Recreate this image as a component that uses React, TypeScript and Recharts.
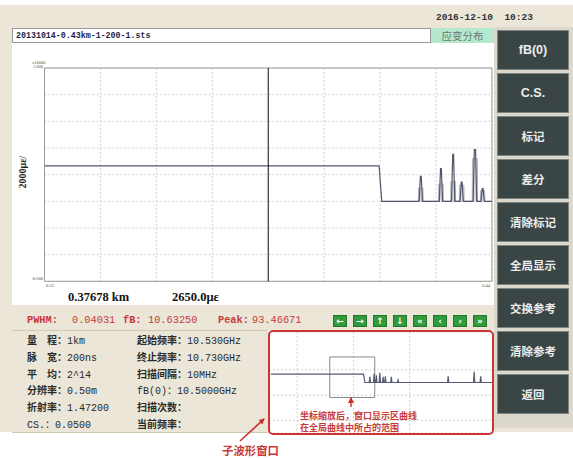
import React from 'react';
import {
  ComposedChart,
  Line,
  Area,
  XAxis,
  YAxis,
  CartesianGrid,
  ReferenceLine,
  ReferenceArea,
} from 'recharts';

// ---------- main strain view (0.22 – 0.44 km) ----------
const mainTicksX = [0.22, 0.2475, 0.275, 0.3025, 0.33, 0.3575, 0.385, 0.4125, 0.44];
const mainTicksY = [-0.6, -0.4, -0.2, 0, 0.2, 0.4, 0.6, 0.8, 1.0];
const mainDistance = [
  0.22, 0.3845, 0.3858,
  0.4042, 0.4048, 0.4052, 0.4058,
  0.4141, 0.4147, 0.4151, 0.4157,
  0.4201, 0.4207, 0.4211, 0.4217,
  0.4243, 0.4249, 0.4253, 0.4259,
  0.4307, 0.4313, 0.4319, 0.4325,
  0.4346, 0.4352, 0.4356, 0.4362,
  0.44,
];
const mainStrain = [
  0.266, 0.266, 0,
  0, 0.188, 0.188, 0,
  0, 0.245, 0.245, 0,
  0, 0.352, 0.352, 0,
  0, 0.145, 0.145, 0,
  0, 0.387, 0.387, 0,
  0, 0.096, 0.096, 0,
  0,
];
const refDistance = [
  0.4038, 0.4039, 0.4061, 0.4062,
  0.4137, 0.4138, 0.416, 0.4161,
  0.4197, 0.4198, 0.422, 0.4221,
  0.4239, 0.424, 0.4262, 0.4263,
  0.4303, 0.4304, 0.4328, 0.4329,
  0.4343, 0.4344, 0.4364, 0.4365,
];
const refStrain = [
  0, 0.1, 0.1, 0,
  0, 0.13, 0.13, 0,
  0, 0.15, 0.15, 0,
  0, 0.12, 0.12, 0,
  0, 0.32, 0.32, 0,
  0, 0.08, 0.08, 0,
];

// ---------- overview (sub-window) ----------
const subTicksX = [-0.077, 0.0605, 0.198, 0.3355, 0.473, 0.6105, 0.748, 0.8855, 1.023];
const subTicksY = [-1.6, -1.2, -0.8, -0.4, 0, 0.4, 0.8, 1.2, 1.6];
const subDistance = [
  -0.068, 0.385, 0.392,
  0.413, 0.416, 0.419,
  0.434, 0.437, 0.44,
  0.445, 0.448, 0.451,
  0.462, 0.465, 0.468,
  0.478, 0.481, 0.484,
  0.489, 0.492, 0.495,
  0.518, 0.521, 0.524,
  0.551, 0.554, 0.557,
  0.796, 0.799, 0.802,
  0.923, 0.926, 0.929,
  0.955, 0.958, 0.961,
  1.023,
];
const subStrain = [
  0.266, 0.266, 0,
  0, 0.178, 0,
  0, 0.286, 0,
  0, 0.232, 0,
  0, 0.305, 0,
  0, 0.178, 0,
  0, 0.2, 0,
  0, 0.178, 0,
  0, 0.073, 0,
  0, 0.2, 0,
  0, 0.337, 0,
  0, 0.2, 0,
  0,
];

// ---------- texts ----------
const fileName = '20131014-0.43km-1-200-1.sts';
const modeLabel = '应变分布';
const dateText = '2016-12-10  10:23';
const yTitle = '2000με/';
const cursorDistance = '0.37678 km';
const cursorStrain = '2650.0με';
const cursorKm = 0.33;
const statusLabels = ['PWHM:', 'fB:', 'Peak:'];
const statusValues = ['0.04031', '10.63250', '93.46671'];
const navGlyphs = ['←', '→', '↑', '↓', '«', '‹', '›', '»'];
const sideButtons = ['fB(0)', 'C.S.', '标记', '差分', '清除标记', '全局显示', '交换参考', '清除参考', '返回'];
const infoLeftLabels = ['量　程：', '脉　宽：', '平　均：', '分辨率：', '折射率：', 'CS.：'];
const infoLeftValues = ['1km', '200ns', '2^14', '0.50m', '1.47200', '0.0500'];
const infoRightLabels = ['起始频率：', '终止频率：', '扫描间隔：', 'fB(0)：', '扫描次数：', '当前频率：'];
const infoRightValues = ['10.530GHz', '10.730GHz', '10MHz', '10.5000GHz', '', ''];
const noteLines = ['坐标缩放后，窗口显示区曲线', '在全局曲线中所占的范围'];
const subWindowLabel = '子波形窗口';

const mainData = mainDistance.map((km, i) => ({ km, strain: mainStrain[i] }));
const refData = refDistance.map((km, i) => ({ km, ref: refStrain[i] }));
const subData = subDistance.map((km, i) => ({ km, strain: subStrain[i] }));

const CJK = "'Noto Sans CJK SC', sans-serif";
const MONO = "'Liberation Mono', 'Noto Sans CJK SC', monospace";
const SERIF = "'Liberation Serif', 'DejaVu Serif', serif";
const BEIGE = '#ebe6d8';
const RED = '#c73a3a';

const abs = (left: number, top: number, extra: any = {}) => ({
  position: 'absolute' as const,
  left,
  top,
  ...extra,
});

const YTick = (props: any) => {
  const { y, payload } = props;
  const v = payload.value;
  if (Math.abs(v - 1) < 1e-9) {
    return (
      <g fontFamily={SERIF} fontSize={4.5} fill="#555">
        <text x={20} y={y - 4}>x10000</text>
        <text x={31} y={y} textAnchor="end">1.000</text>
      </g>
    );
  }
  if (Math.abs(v + 0.6) < 1e-9) {
    return (
      <text x={31} y={y - 1} textAnchor="end" fontFamily={SERIF} fontSize={4.5} fill="#555">
        -0.600
      </text>
    );
  }
  return null;
};

const XTick = (props: any) => {
  const { x, payload } = props;
  const v = payload.value;
  if (Math.abs(v - 0.22) < 1e-9) {
    return (
      <text x={x + 1.5} y={243.5} fontFamily={SERIF} fontSize={4.5} fill="#555">0.22</text>
    );
  }
  if (Math.abs(v - 0.44) < 1e-9) {
    return (
      <text x={x - 2} y={243.5} textAnchor="end" fontFamily={SERIF} fontSize={4.5} fill="#555">0.44</text>
    );
  }
  return null;
};

export default function App() {
  return (
    <div
      style={{
        position: 'fixed',
        left: 0,
        top: 0,
        width: 573,
        height: 459,
        background: '#ffffff',
        overflow: 'hidden',
        fontFamily: CJK,
      }}
    >
      {/* background panels */}
      <div style={abs(0, 5, { width: 573, height: 427, background: BEIGE })} />
      <div style={abs(494, 27, { width: 79, height: 401, background: '#dcd8cc' })} />

      {/* top bar */}
      <div style={abs(436, 12, { fontFamily: MONO, fontSize: 9.5, fontWeight: 700, color: '#333', lineHeight: '12px', whiteSpace: 'pre' })}>
        {dateText}
      </div>
      <div
        style={abs(12, 28, {
          width: 419,
          height: 15,
          background: '#fff',
          border: '1px solid #9a9a9a',
          boxSizing: 'border-box',
          fontFamily: MONO,
          fontSize: 8.3,
          fontWeight: 700,
          color: '#1e1e4a',
          lineHeight: '13px',
          paddingLeft: 3,
        })}
      >
        {fileName}
      </div>
      <div
        style={abs(431, 28, {
          width: 63,
          height: 15,
          background: '#b5e8cf',
          fontSize: 10.5,
          color: '#6a786f',
          lineHeight: '15px',
          textAlign: 'center',
        })}
      >
        {modeLabel}
      </div>

      {/* white chart panel */}
      <div style={abs(12, 43, { width: 482, height: 262, background: '#fff' })} />

      {/* main chart */}
      <div style={abs(12, 43)}>
        <ComposedChart width={483} height={250} margin={{ top: 25, right: 3, bottom: 0, left: 0 }}>
          <CartesianGrid stroke="#d2d2d2" strokeDasharray="2 2" />
          <XAxis
            type="number"
            dataKey="km"
            domain={[0.22, 0.44]}
            ticks={mainTicksX}
            allowDataOverflow
            axisLine={false}
            tickLine={false}
            height={11.7}
            tick={XTick}
            interval={0}
          />
          <YAxis
            type="number"
            domain={[-0.6, 1.0]}
            ticks={mainTicksY}
            allowDataOverflow
            axisLine={false}
            tickLine={false}
            width={32.5}
            tick={YTick}
            interval={0}
          />
          <ReferenceArea x1={0.22} x2={0.44} y1={-0.6} y2={1.0} stroke="#9c9c9c" strokeWidth={1} fill="none" fillOpacity={0} />
          <Area
            data={refData}
            dataKey="ref"
            type="linear"
            stroke="#b4b4c0"
            strokeWidth={1}
            fill="#b4b4cc"
            fillOpacity={0.5}
            isAnimationActive={false}
            dot={false}
            activeDot={false}
          />
          <Line
            data={mainData}
            dataKey="strain"
            type="linear"
            stroke="#525668"
            strokeWidth={1.2}
            dot={false}
            activeDot={false}
            isAnimationActive={false}
          />
          <ReferenceLine x={cursorKm} stroke="#151515" strokeWidth={1} />
        </ComposedChart>
      </div>

      {/* y title */}
      <div
        style={abs(-2, 166, {
          width: 50,
          textAlign: 'center',
          transform: 'rotate(-90deg)',
          fontFamily: SERIF,
          fontSize: 10,
          fontWeight: 700,
          color: '#222',
          lineHeight: '12px',
        })}
      >
        {yTitle}
      </div>

      {/* cursor readout */}
      <div style={abs(68, 290, { fontFamily: SERIF, fontSize: 12.5, fontWeight: 700, color: '#111', lineHeight: '15px' })}>
        {cursorDistance}
      </div>
      <div style={abs(172, 290, { fontFamily: SERIF, fontSize: 12.5, fontWeight: 700, color: '#111', lineHeight: '15px' })}>
        {cursorStrain}
      </div>

      {/* status row */}
      {[27, 123, 218].map((x, i) => (
        <div key={'sl' + i} style={abs(x, 314, { fontFamily: MONO, fontSize: 10.3, color: RED, lineHeight: '13px', fontWeight: 700 })}>
          {statusLabels[i]}
        </div>
      ))}
      {[72, 148, 252].map((x, i) => (
        <div key={'sv' + i} style={abs(x, 314, { fontFamily: MONO, fontSize: 10.3, color: RED, lineHeight: '13px' })}>
          {statusValues[i]}
        </div>
      ))}
      {navGlyphs.map((g, i) => (
        <div
          key={'nav' + i}
          style={abs(333 + i * 20, 314.5, {
            width: 14,
            height: 12,
            background: '#2f9b3c',
            border: '1px solid #22772c',
            boxSizing: 'border-box',
            color: '#fff',
            fontFamily: "'DejaVu Sans', sans-serif",
            fontWeight: 700,
            fontSize: 9,
            lineHeight: '10px',
            textAlign: 'center',
          })}
        >
          {g}
        </div>
      ))}

      {/* info panel separators */}
      <div style={abs(12, 330, { width: 256, height: 1, background: '#cfc8b6' })} />
      <div style={abs(12, 432, { width: 256, height: 1, background: '#cfc8b6' })} />

      {/* info panel */}
      {infoLeftLabels.map((lab, i) => (
        <div key={'il' + i} style={abs(27, 333 + i * 16.8, { fontSize: 10, lineHeight: '14px', color: '#2a2a2a', whiteSpace: 'pre' })}>
          <span style={{ fontFamily: i === 5 ? MONO : CJK, fontWeight: i === 5 ? 400 : 700 }}>{lab}</span>
          <span style={{ fontFamily: MONO }}>{infoLeftValues[i]}</span>
        </div>
      ))}
      {infoRightLabels.map((lab, i) => (
        <div key={'ir' + i} style={abs(137, 333 + i * 16.8, { fontSize: 10, lineHeight: '14px', color: '#2a2a2a', whiteSpace: 'pre' })}>
          <span style={{ fontFamily: i === 3 ? MONO : CJK, fontWeight: i === 3 ? 400 : 700 }}>{lab}</span>
          <span style={{ fontFamily: MONO }}>{infoRightValues[i]}</span>
        </div>
      ))}

      {/* sub window */}
      <div style={abs(268, 330, { width: 226, height: 105, background: '#fff' })} />
      <div style={abs(269, 332)}>
        <ComposedChart width={225} height={101} margin={{ top: 0, right: 0, bottom: 0, left: 0 }}>
          <CartesianGrid stroke="#d2d2d2" strokeDasharray="2 2" />
          <XAxis type="number" dataKey="km" domain={[-0.077, 1.023]} ticks={subTicksX} hide allowDataOverflow />
          <YAxis type="number" domain={[-1.6, 1.6]} ticks={subTicksY} hide allowDataOverflow />
          <Line
            data={subData}
            dataKey="strain"
            type="linear"
            stroke="#545a70"
            strokeWidth={1.2}
            dot={false}
            activeDot={false}
            isAnimationActive={false}
          />
          <ReferenceArea x1={0.22} x2={0.44} y1={-0.476} y2={0.81} stroke="#8a8a8a" strokeWidth={1} fill="none" fillOpacity={0} />
        </ComposedChart>
      </div>
      <div style={abs(300, 409.5, { fontSize: 9, fontWeight: 700, color: RED, lineHeight: '12.5px', whiteSpace: 'nowrap' })}>
        {noteLines[0]}
        <br />
        {noteLines[1]}
      </div>
      <div
        style={abs(268, 330, {
          width: 226,
          height: 105,
          border: '2px solid #cf3434',
          borderRadius: 5,
          boxSizing: 'border-box',
        })}
      />

      {/* side buttons */}
      {sideButtons.map((b, i) => (
        <div
          key={'b' + i}
          style={abs(497, 30 + i * 43, {
            width: 72,
            height: 40,
            background: '#3a4646',
            border: '1px solid #7c8484',
            boxSizing: 'border-box',
            color: '#ececec',
            display: 'flex',
            alignItems: 'center',
            justifyContent: 'center',
            fontFamily: i < 2 ? "'Liberation Sans', Arial, sans-serif" : CJK,
            fontSize: i < 2 ? 12.5 : 11.5,
            fontWeight: 700,
          })}
        >
          {b}
        </div>
      ))}

      {/* annotation arrows */}
      <svg width={573} height={459} style={abs(0, 0, { pointerEvents: 'none' })}>
        <defs>
          <marker id="ah" markerWidth="6" markerHeight="6" refX="5" refY="3" orient="auto" markerUnits="userSpaceOnUse">
            <path d="M0,0 L6,3 L0,6 z" fill="#d02c2c" />
          </marker>
        </defs>
        <line x1={240} y1={441} x2={264} y2={419} stroke="#d02c2c" strokeWidth={1.6} markerEnd="url(#ah)" />
        <line x1={351} y1={407} x2={351} y2={398} stroke="#d02c2c" strokeWidth={1.4} markerEnd="url(#ah)" />
      </svg>
      <div style={abs(222, 443, { fontSize: 11.4, fontWeight: 700, color: RED, lineHeight: '14px' })}>
        {subWindowLabel}
      </div>
    </div>
  );
}
